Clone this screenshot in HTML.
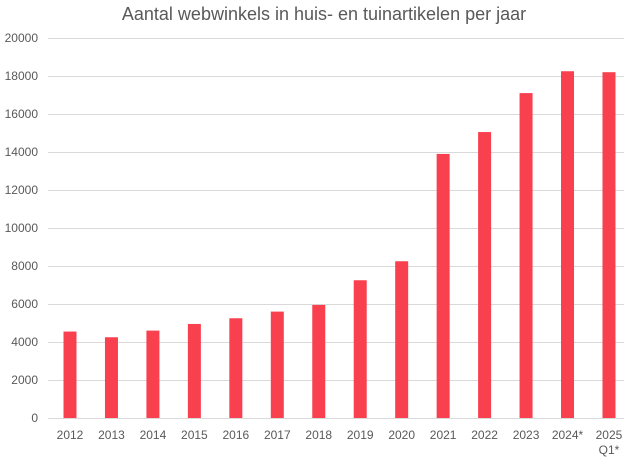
<!DOCTYPE html><html><head><style>body{margin:0;background:#fff}</style></head><body>
<svg width="626" height="459" xmlns="http://www.w3.org/2000/svg" font-family="Liberation Sans, sans-serif">
<rect width="626" height="459" fill="#fff"/>
<text x="324" y="20" text-anchor="middle" font-size="18" fill="#595959">Aantal webwinkels in huis- en tuinartikelen per jaar</text>
<g stroke="#d9d9d9" stroke-width="1">
<line x1="48" x2="624" y1="38.5" y2="38.5"/><line x1="48" x2="624" y1="76.5" y2="76.5"/><line x1="48" x2="624" y1="114.5" y2="114.5"/><line x1="48" x2="624" y1="152.5" y2="152.5"/><line x1="48" x2="624" y1="190.5" y2="190.5"/><line x1="48" x2="624" y1="228.5" y2="228.5"/><line x1="48" x2="624" y1="266.5" y2="266.5"/><line x1="48" x2="624" y1="304.5" y2="304.5"/><line x1="48" x2="624" y1="342.5" y2="342.5"/><line x1="48" x2="624" y1="380.5" y2="380.5"/><line x1="48" x2="624" y1="418.5" y2="418.5"/>
</g>
<g font-size="12" fill="#595959" text-anchor="end">
<text x="38" y="42">20000</text><text x="38" y="80">18000</text><text x="38" y="118">16000</text><text x="38" y="156">14000</text><text x="38" y="194">12000</text><text x="38" y="232">10000</text><text x="38" y="270">8000</text><text x="38" y="308">6000</text><text x="38" y="346">4000</text><text x="38" y="384">2000</text><text x="38" y="422">0</text>
</g>
<g fill="#f9404f" id="bars"></g>
<g font-size="12" fill="#595959" text-anchor="middle" id="lbls"></g>
<script>
var v=[4550,4250,4600,4950,5250,5600,5950,7250,8250,13900,15050,17100,18250,18200];
var b=document.getElementById('bars'),l=document.getElementById('lbls'),ns='http://www.w3.org/2000/svg';
for(var i=0;i<14;i++){var cx=70+i*41.46,h=v[i]*0.019;
var r=document.createElementNS(ns,'rect');r.setAttribute('x',cx-6.5);r.setAttribute('width',13);r.setAttribute('y',418-h);r.setAttribute('height',h);b.appendChild(r);
var t=document.createElementNS(ns,'text');t.setAttribute('x',cx);t.setAttribute('y',439);t.textContent=i==12?'2024*':(2012+i);l.appendChild(t);}
var t=document.createElementNS(ns,'text');t.setAttribute('x',70+13*41.46);t.setAttribute('y',454);t.textContent='Q1*';l.appendChild(t);
</script>
</svg></body></html>
